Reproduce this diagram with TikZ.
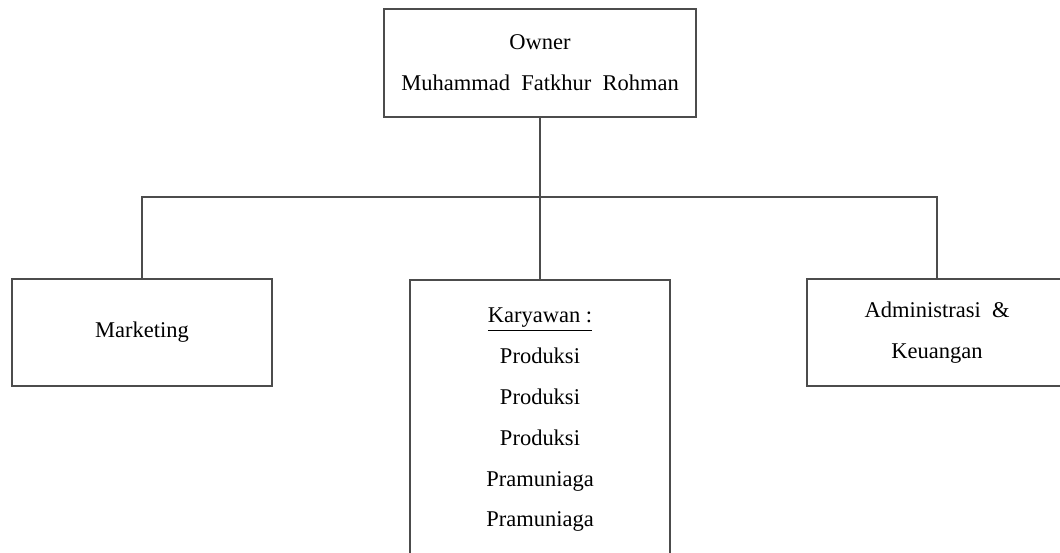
\documentclass[tikz,border=0pt]{standalone}
\usepackage{fontspec}
\setmainfont{Liberation Serif}
\usetikzlibrary{positioning}

\begin{document}
\begin{tikzpicture}[x=0.025cm,y=-0.025cm,line width=1.3pt,draw=black!70,
    every node/.style={draw=black!70,line width=1.3pt,align=center,
      font=\fontsize{16}{29}\selectfont,inner sep=0pt},
    unitbox/.style={minimum width=6.5cm,minimum height=2.68cm}]
    \clip(0,0)rectangle(1060,553);
    \node[minimum width=7.8cm,minimum height=2.7cm](owner)at(540,63)
      {Owner\\Muhammad\ \ Fatkhur\ \ Rohman};
    \node[unitbox](marketing)at(142,332.5){Marketing};
    \node[unitbox,minimum height=7cm](karyawan)at(540,420)
      {\underline{Karyawan :}\\Produksi\\Produksi\\Produksi\\Pramuniaga\\Pramuniaga};
    \node[unitbox](admin)at(937,332.5){Administrasi \ \&\\Keuangan};
    \coordinate(bus)at(540,197);
    \draw[draw=black!70](owner.south)--(karyawan.north);
    \draw[draw=black!70](marketing.north)|-(bus)-|(admin.north);
  \end{tikzpicture}
\end{document}
